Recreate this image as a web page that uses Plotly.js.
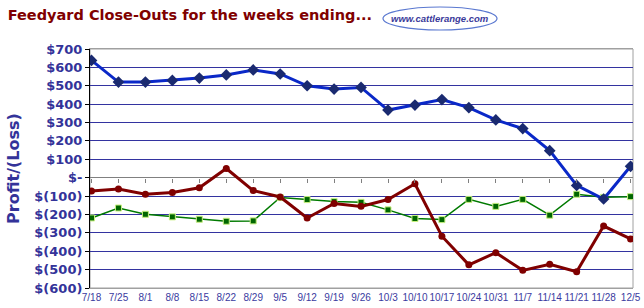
<!DOCTYPE html>
<html><head><meta charset="utf-8">
<script src="https://cdn.plot.ly/plotly-3.0.1.min.js"></script>
<style>html,body{margin:0;padding:0;background:#fff;}#chart{width:644px;height:308px;}</style>
</head><body><div id="chart"></div>
<script>
const weeks = ["7/18","7/25","8/1","8/8","8/15","8/22","8/29","9/5","9/12","9/19","9/26","10/3","10/10","10/17","10/24","10/31","11/7","11/14","11/21","11/28","12/5"];
const blueSeries = [638,520,520,529,542,559,586,564,500,482,491,368,395,425,381,314,267,147,-42,-116,62];
const redSeries = [-72,-61,-90,-81,-55,50,-70,-105,-219,-140,-156,-119,-33,-318,-474,-408,-504,-471,-511,-263,-333];
const greenSeries = [-219,-165,-199,-213,-226,-237,-235,-108,-119,-130,-134,-175,-222,-228,-118,-156,-118,-204,-90,-107,-103];
const yTickVals = [700,600,500,400,300,200,100,0,-100,-200,-300,-400,-500,-600];
const yTickText = ["$700","$600","$500","$400","$300","$200","$100","$-","$(100)","$(200)","$(300)","$(400)","$(500)","$(600)"];

const idx = weeks.map((w,i)=>i);
const F = "DejaVu Sans, sans-serif";

const traces = [
  {x: idx, y: blueSeries, xaxis:'x2', mode:'none', type:'scatter', hoverinfo:'skip'},
  {x: idx, y: greenSeries, type:'scatter', mode:'lines+markers',
   line:{color:'#007a00', width:1.5},
   marker:{symbol:'square', size:6, color:'#006600', line:{color:'#c8f080', width:1}}},
  {x: idx, y: redSeries, type:'scatter', mode:'lines+markers',
   line:{color:'#800000', width:3},
   marker:{symbol:'circle', size:7, color:'#800000'}},
  {x: idx, y: blueSeries, type:'scatter', mode:'lines+markers',
   line:{color:'#0a28c8', width:3},
   marker:{symbol:'diamond', size:9, color:'#1a2a70'}}
];

const layout = {
  width:644, height:308,
  margin:{l:90, r:11, t:49, b:20},
  paper_bgcolor:'#ffffff', plot_bgcolor:'#ffffff',
  showlegend:false,
  title:{text:'<b>Feedyard Close-Outs for the weeks ending...</b>', x:0.012, xanchor:'left', y:0.968, yanchor:'top',
         font:{family:'DejaVu Sans', size:14.5, color:'#800000'}},
  xaxis:{range:[-0.056,20.09], tickvals:idx, ticktext:weeks, tickangle:0, showgrid:false, zeroline:false,
         showline:true, linecolor:'#a0a0a0', linewidth:1, mirror:true, ticks:'',
         tickfont:{family:'Liberation Sans, Arial, sans-serif', size:10, color:'#3a3aa0'}},
  xaxis2:{overlaying:'x', range:[-0.056,20.09], anchor:'free', position:(600/1300), tickvals:idx,
          showticklabels:false, ticks:'outside', ticklen:4, tickcolor:'#808080', showline:false,
          showgrid:false, zeroline:false, side:'bottom'},
  yaxis:{range:[-600,700], tickvals:yTickVals, ticktext:yTickText, showgrid:true, gridcolor:'#3333a0', gridwidth:1,
         zeroline:true, zerolinecolor:'#808080', zerolinewidth:1,
         showline:true, linecolor:'#000000', linewidth:1, ticks:'outside', ticklen:4, tickcolor:'#000000',
         tickfont:{family:F, size:13, color:'#333399', weight:'bold'},
         title:{text:'<b>Profit/(Loss)</b>', font:{family:F, size:16, color:'#333399'}, standoff:10}},
  shapes:[
    {type:'rect', xref:'paper', yref:'paper', x0:0, x1:1, y0:0, y1:1, line:{color:'#a0a0a0', width:1}, layer:'below'},
    {type:'circle', xref:'paper', yref:'paper', x0:(383-90)/543, x1:(497-90)/543, y0:(308-20-30)/239, y1:(308-20-7)/239,
           line:{color:'#5a78d0', width:1.2}, fillcolor:'rgba(0,0,0,0)'}],
  annotations:[{xref:'paper', yref:'paper', x:(440-90)/543, y:(308-20-18.5)/239, xanchor:'center', yanchor:'middle',
                text:'<b><i>www.cattlerange.com</i></b>', showarrow:false,
                font:{family:'Liberation Sans, sans-serif', size:9.5, color:'#3a3a9a'}}]
};

Plotly.newPlot('chart', traces, layout, {staticPlot:true, displayModeBar:false});
</script></body></html>
